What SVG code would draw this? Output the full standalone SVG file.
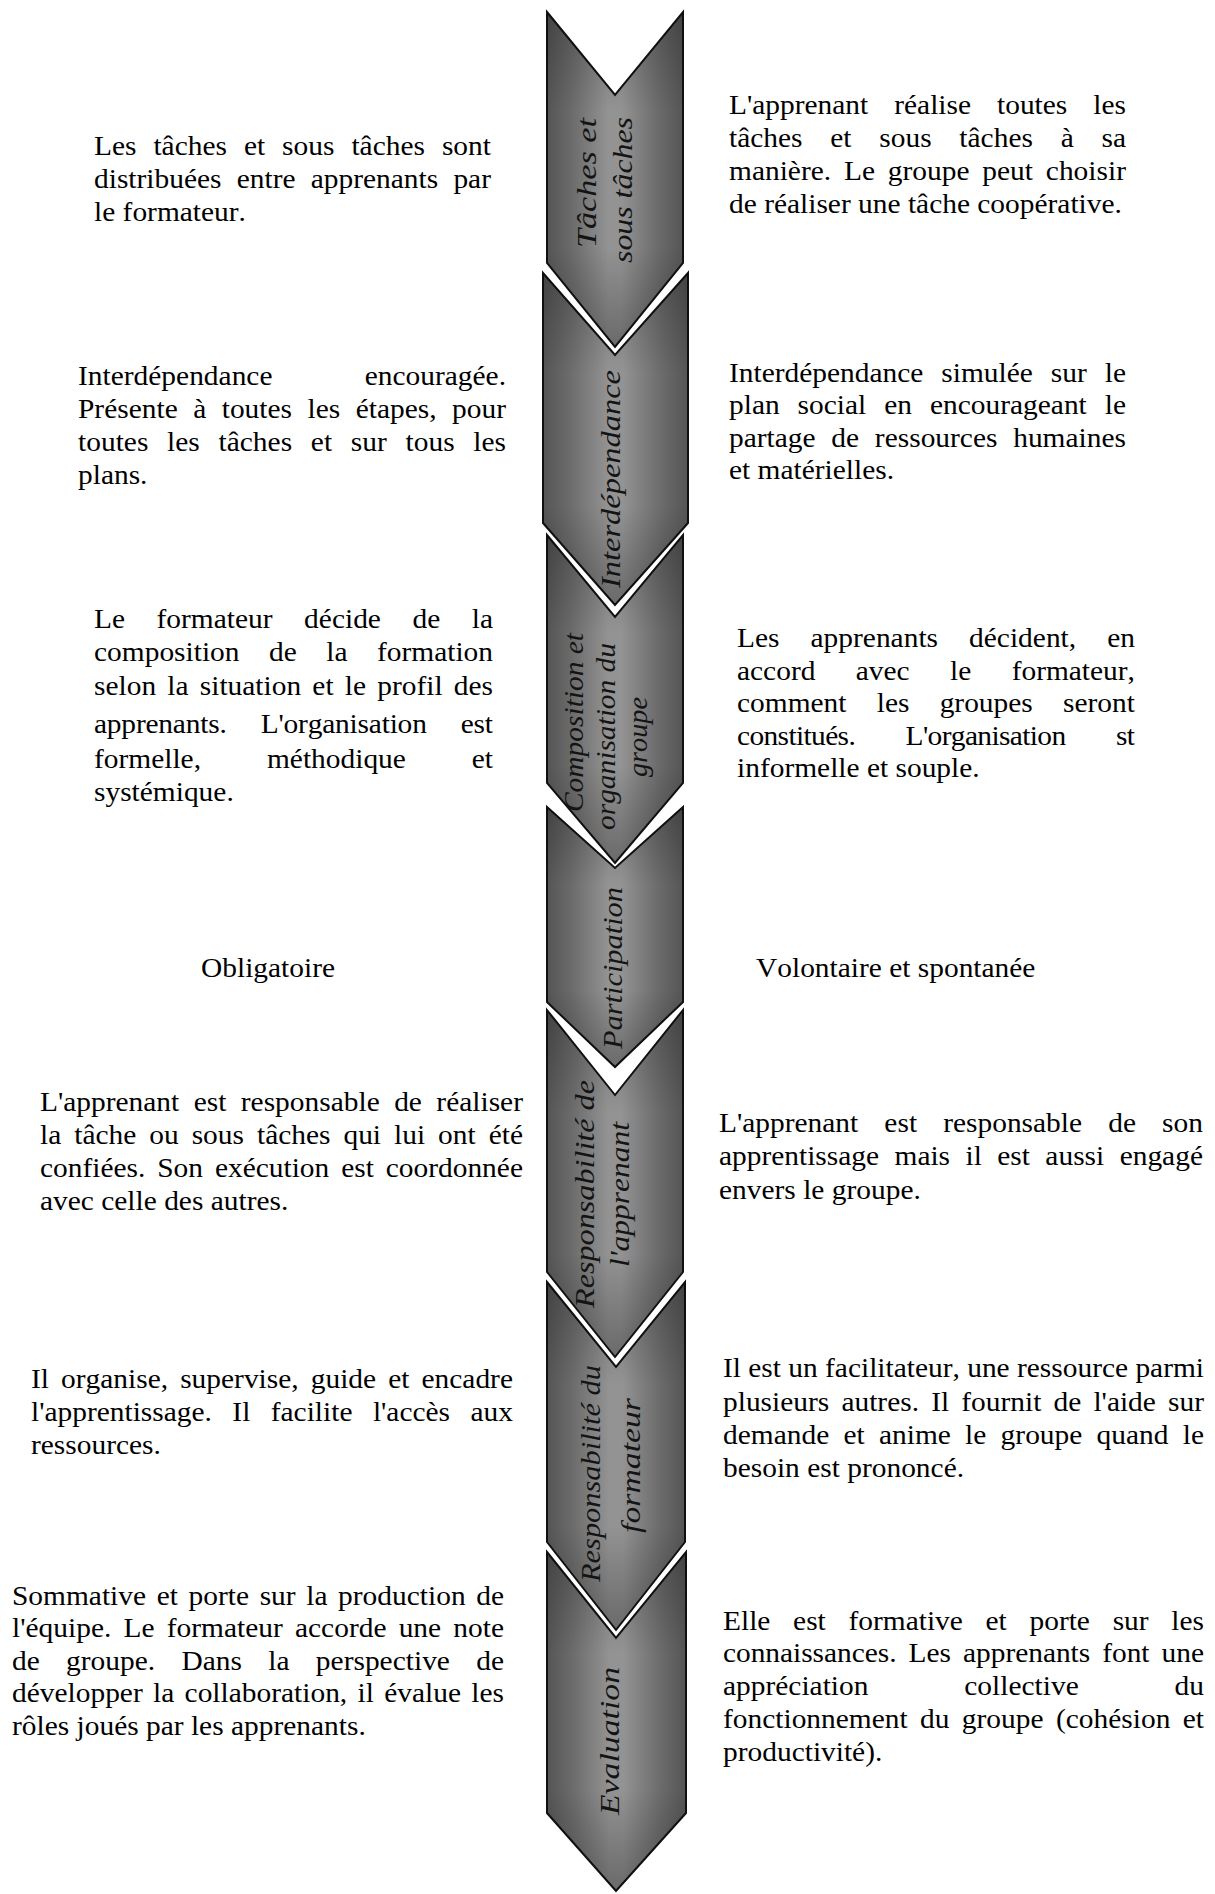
<svg xmlns="http://www.w3.org/2000/svg" width="1215" height="1894" viewBox="0 0 1215 1894">
  <style>
    .chev { fill: url(#chevBody); stroke: #111; stroke-width: 2; stroke-linejoin: miter; }
    .chev-shade { fill: url(#chevShade); stroke: none; }
    .lbl { font-family: "Liberation Serif", "Times New Roman", serif; font-style: italic; font-size: 28px; fill: #141414; font-kerning: none; }
    .desc text { font-family: "Liberation Serif", "Times New Roman", serif; font-size: 27px; fill: #000; font-kerning: none; }
  </style>
  <defs>
    <linearGradient id="chevBody" x1="0" y1="0" x2="1" y2="0">
      <stop offset="0" stop-color="#555"/>
      <stop offset="0.18" stop-color="#6b6b6b"/>
      <stop offset="0.45" stop-color="#939393"/>
      <stop offset="0.55" stop-color="#939393"/>
      <stop offset="0.82" stop-color="#6b6b6b"/>
      <stop offset="1" stop-color="#555"/>
    </linearGradient>
    <linearGradient id="chevShade" x1="0" y1="0" x2="0" y2="1">
      <stop offset="0" stop-color="#000" stop-opacity="0.22"/>
      <stop offset="0.3" stop-color="#000" stop-opacity="0"/>
      <stop offset="0.7" stop-color="#000" stop-opacity="0"/>
      <stop offset="1" stop-color="#000" stop-opacity="0.28"/>
    </linearGradient>
  </defs>

  <!-- central chevron column -->
  <g id="step-taches">
    <path class="chev" d="M547,12 L615,95 L683,12 L683,263 L615,347 L547,263 Z"/>
    <path class="chev-shade" d="M547,12 L615,95 L683,12 L683,263 L615,347 L547,263 Z"/>
    <text class="lbl" transform="translate(596,183) rotate(-90)" x="-65" textLength="130" lengthAdjust="spacingAndGlyphs">Tâches et</text>
    <text class="lbl" transform="translate(632,190) rotate(-90)" x="-73" textLength="146" lengthAdjust="spacingAndGlyphs">sous tâches</text>
  </g>
  <g id="step-interdependance">
    <path class="chev" d="M543,273 L615,355 L688,273 L688,523 L615,605 L543,523 Z"/>
    <path class="chev-shade" d="M543,273 L615,355 L688,273 L688,523 L615,605 L543,523 Z"/>
    <text class="lbl" transform="translate(620,479) rotate(-90)" x="-109" textLength="218" lengthAdjust="spacingAndGlyphs">Interdépendance</text>
  </g>
  <g id="step-composition">
    <path class="chev" d="M547,535 L615,617 L683,535 L683,783 L615,863 L547,783 Z"/>
    <path class="chev-shade" d="M547,535 L615,617 L683,535 L683,783 L615,863 L547,783 Z"/>
    <text class="lbl" transform="translate(583,722.5) rotate(-90)" x="-89.5" textLength="179" lengthAdjust="spacingAndGlyphs">Composition et</text>
    <text class="lbl" transform="translate(615,736.5) rotate(-90)" x="-93.5" textLength="187" lengthAdjust="spacingAndGlyphs">organisation du</text>
    <text class="lbl" transform="translate(647,737) rotate(-90)" x="-40" textLength="80" lengthAdjust="spacingAndGlyphs">groupe</text>
  </g>
  <g id="step-participation">
    <path class="chev" d="M547,807 L615,868 L683,807 L683,1002 L615,1067 L547,1002 Z"/>
    <path class="chev-shade" d="M547,807 L615,868 L683,807 L683,1002 L615,1067 L547,1002 Z"/>
    <text class="lbl" transform="translate(622,968) rotate(-90)" x="-81" textLength="162" lengthAdjust="spacingAndGlyphs">Participation</text>
  </g>
  <g id="step-resp-apprenant">
    <path class="chev" d="M547,1010 L615,1095 L683,1010 L683,1272 L615,1357 L547,1272 Z"/>
    <path class="chev-shade" d="M547,1010 L615,1095 L683,1010 L683,1272 L615,1357 L547,1272 Z"/>
    <text class="lbl" transform="translate(594,1194) rotate(-90)" x="-114" textLength="228" lengthAdjust="spacingAndGlyphs">Responsabilité de</text>
    <text class="lbl" transform="translate(629,1194.5) rotate(-90)" x="-72.5" textLength="145" lengthAdjust="spacingAndGlyphs">l'apprenant</text>
  </g>
  <g id="step-resp-formateur">
    <path class="chev" d="M547,1282 L616,1367 L685,1282 L685,1542 L616,1630 L547,1542 Z"/>
    <path class="chev-shade" d="M547,1282 L616,1367 L685,1282 L685,1542 L616,1630 L547,1542 Z"/>
    <text class="lbl" transform="translate(600,1473.5) rotate(-90)" x="-108.5" textLength="217" lengthAdjust="spacingAndGlyphs">Responsabilité du</text>
    <text class="lbl" transform="translate(640,1465.5) rotate(-90)" x="-67.5" textLength="135" lengthAdjust="spacingAndGlyphs">formateur</text>
  </g>
  <g id="step-evaluation">
    <path class="chev" d="M547,1552 L616,1638 L686,1552 L686,1813 L616,1891 L547,1813 Z"/>
    <path class="chev-shade" d="M547,1552 L616,1638 L686,1552 L686,1813 L616,1891 L547,1813 Z"/>
    <text class="lbl" transform="translate(619,1741) rotate(-90)" x="-74" textLength="148" lengthAdjust="spacingAndGlyphs">Evaluation</text>
  </g>

  <!-- left column: directed side -->
  <g id="left-taches" class="desc" transform="matrix(1.09 0 0 1 94 0)">
    <text y="155" textLength="364.2" lengthAdjust="spacing" style="word-spacing:8.8px">Les tâches et sous tâches sont</text>
    <text y="188" textLength="364.2" lengthAdjust="spacing" style="word-spacing:7.2px">distribuées entre apprenants par</text>
    <text y="221">le formateur.</text>
  </g>
  <g id="left-interdependance" class="desc" transform="matrix(1.09 0 0 1 78 0)">
    <text y="385" textLength="392.7" lengthAdjust="spacing" style="word-spacing:77.8px">Interdépendance encouragée.</text>
    <text y="418" textLength="392.7" lengthAdjust="spacing" style="word-spacing:7.4px">Présente à toutes les étapes, pour</text>
    <text y="451" textLength="392.7" lengthAdjust="spacing" style="word-spacing:10.4px">toutes les tâches et sur tous les</text>
    <text y="484">plans.</text>
  </g>
  <g id="left-composition" class="desc" transform="matrix(1.09 0 0 1 94 0)">
    <text y="628" textLength="366.1" lengthAdjust="spacing" style="word-spacing:22.2px">Le formateur décide de la</text>
    <text y="661" textLength="366.1" lengthAdjust="spacing" style="word-spacing:20.3px">composition de la formation</text>
    <text y="695" textLength="366.1" lengthAdjust="spacing" style="word-spacing:3.5px">selon la situation et le profil des</text>
    <text y="733" textLength="366.1" lengthAdjust="spacing" style="word-spacing:24.7px">apprenants. L'organisation est</text>
    <text y="768" textLength="366.1" lengthAdjust="spacing" style="word-spacing:53.7px">formelle, méthodique et</text>
    <text y="801">systémique.</text>
  </g>
  <g id="left-participation" class="desc" transform="matrix(1.09 0 0 1 268 0)">
    <text y="977" text-anchor="middle">Obligatoire</text>
  </g>
  <g id="left-resp-apprenant" class="desc" transform="matrix(1.09 0 0 1 40 0)">
    <text y="1111" textLength="443.1" lengthAdjust="spacing" style="word-spacing:6.5px">L'apprenant est responsable de réaliser</text>
    <text y="1144" textLength="443.1" lengthAdjust="spacing" style="word-spacing:5.2px">la tâche ou sous tâches qui lui ont été</text>
    <text y="1177" textLength="443.1" lengthAdjust="spacing" style="word-spacing:4.1px">confiées. Son exécution est coordonnée</text>
    <text y="1210">avec celle des autres.</text>
  </g>
  <g id="left-resp-formateur" class="desc" transform="matrix(1.09 0 0 1 31 0)">
    <text y="1388" textLength="442.2" lengthAdjust="spacing" style="word-spacing:4.3px">Il organise, supervise, guide et encadre</text>
    <text y="1421" textLength="442.2" lengthAdjust="spacing" style="word-spacing:12px">l'apprentissage. Il facilite l'accès aux</text>
    <text y="1454">ressources.</text>
  </g>
  <g id="left-evaluation" class="desc" transform="matrix(1.09 0 0 1 12 0)">
    <text y="1605" textLength="451.4" lengthAdjust="spacing" style="word-spacing:3px">Sommative et porte sur la production de</text>
    <text y="1637" textLength="451.4" lengthAdjust="spacing" style="word-spacing:4.4px">l'équipe. Le formateur accorde une note</text>
    <text y="1670" textLength="451.4" lengthAdjust="spacing" style="word-spacing:17.4px">de groupe. Dans la perspective de</text>
    <text y="1702" textLength="451.4" lengthAdjust="spacing" style="word-spacing:2.7px">développer la collaboration, il évalue les</text>
    <text y="1735">rôles joués par les apprenants.</text>
  </g>

  <!-- right column: collaborative side -->
  <g id="right-taches" class="desc" transform="matrix(1.09 0 0 1 729 0)">
    <text y="114" textLength="364.2" lengthAdjust="spacing" style="word-spacing:17.1px">L'apprenant réalise toutes les</text>
    <text y="147" textLength="364.2" lengthAdjust="spacing" style="word-spacing:18.7px">tâches et sous tâches à sa</text>
    <text y="180" textLength="364.2" lengthAdjust="spacing" style="word-spacing:5px">manière. Le groupe peut choisir</text>
    <text y="213">de réaliser une tâche coopérative.</text>
  </g>
  <g id="right-interdependance" class="desc" transform="matrix(1.09 0 0 1 729 0)">
    <text y="382" textLength="364.2" lengthAdjust="spacing" style="word-spacing:9.7px">Interdépendance simulée sur le</text>
    <text y="414" textLength="364.2" lengthAdjust="spacing" style="word-spacing:9.7px">plan social en encourageant le</text>
    <text y="447" textLength="364.2" lengthAdjust="spacing" style="word-spacing:7.7px">partage de ressources humaines</text>
    <text y="479">et matérielles.</text>
  </g>
  <g id="right-composition" class="desc" transform="matrix(1.09 0 0 1 737 0)">
    <text y="647" textLength="365.1" lengthAdjust="spacing" style="word-spacing:21.7px">Les apprenants décident, en</text>
    <text y="680" textLength="365.1" lengthAdjust="spacing" style="word-spacing:30.3px">accord avec le formateur,</text>
    <text y="712" textLength="365.1" lengthAdjust="spacing" style="word-spacing:21px">comment les groupes seront</text>
    <text y="745" textLength="365.1" lengthAdjust="spacing" style="word-spacing:40.1px">constitués. L'organisation st</text>
    <text y="777">informelle et souple.</text>
  </g>
  <g id="right-participation" class="desc" transform="matrix(1.09 0 0 1 756 0)">
    <text y="977">Volontaire et spontanée</text>
  </g>
  <g id="right-resp-apprenant" class="desc" transform="matrix(1.09 0 0 1 719 0)">
    <text y="1132" textLength="444" lengthAdjust="spacing" style="word-spacing:17.2px">L'apprenant est responsable de son</text>
    <text y="1165" textLength="444" lengthAdjust="spacing" style="word-spacing:7.4px">apprentissage mais il est aussi engagé</text>
    <text y="1199">envers le groupe.</text>
  </g>
  <g id="right-resp-formateur" class="desc" transform="matrix(1.09 0 0 1 723 0)">
    <text y="1377" textLength="441.3" lengthAdjust="spacing">Il est un facilitateur, une ressource parmi</text>
    <text y="1411" textLength="441.3" lengthAdjust="spacing" style="word-spacing:4.4px">plusieurs autres. Il fournit de l'aide sur</text>
    <text y="1444" textLength="441.3" lengthAdjust="spacing" style="word-spacing:6.3px">demande et anime le groupe quand le</text>
    <text y="1477">besoin est prononcé.</text>
  </g>
  <g id="right-evaluation" class="desc" transform="matrix(1.09 0 0 1 723 0)">
    <text y="1630" textLength="441.3" lengthAdjust="spacing" style="word-spacing:14.1px">Elle est formative et porte sur les</text>
    <text y="1662" textLength="441.3" lengthAdjust="spacing" style="word-spacing:4.4px">connaissances. Les apprenants font une</text>
    <text y="1695" textLength="441.3" lengthAdjust="spacing" style="word-spacing:81.2px">appréciation collective du</text>
    <text y="1728" textLength="441.3" lengthAdjust="spacing" style="word-spacing:4.6px">fonctionnement du groupe (cohésion et</text>
    <text y="1761">productivité).</text>
  </g>
</svg>
